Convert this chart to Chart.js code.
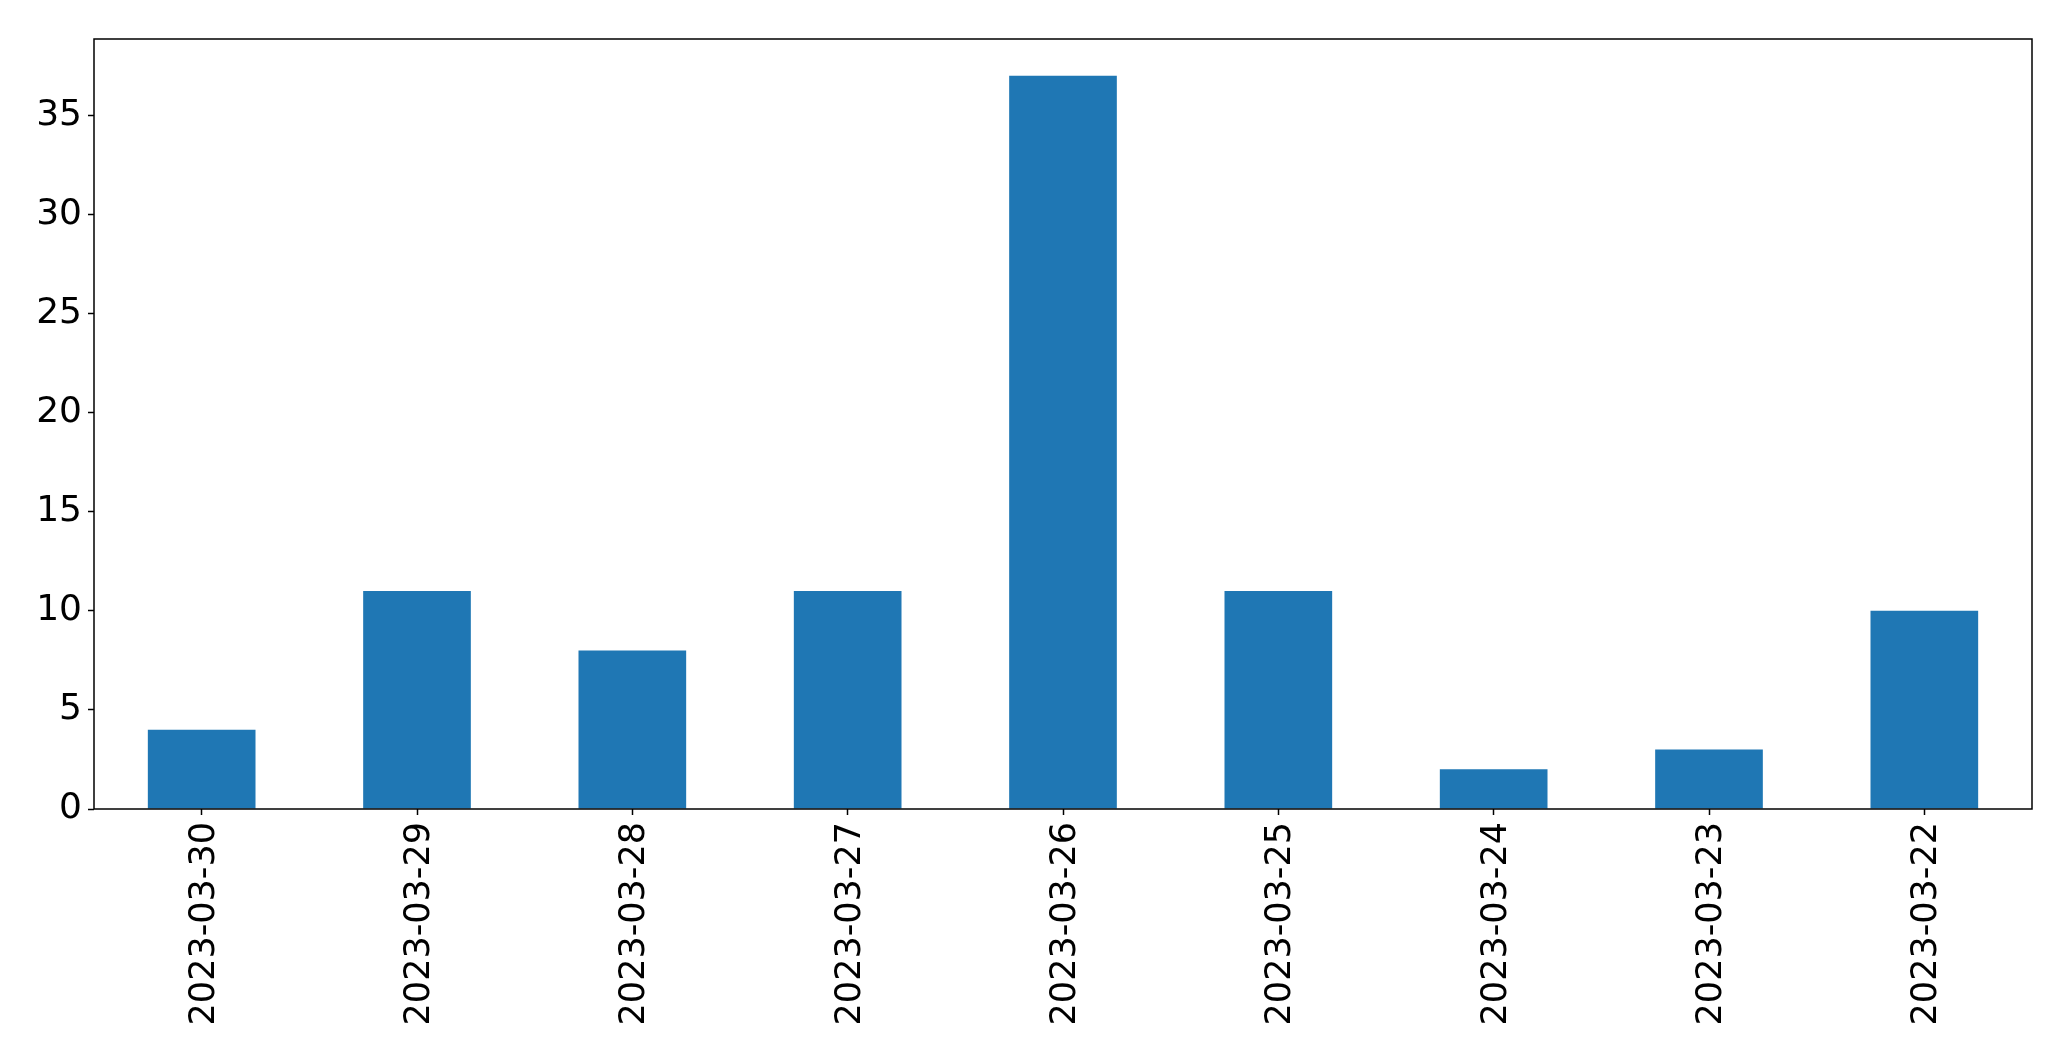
<!DOCTYPE html>
<html>
<head>
<meta charset="utf-8">
<script src="https://cdn.jsdelivr.net/npm/chart.js@4/dist/chart.umd.min.js"></script>
<style>
html,body{margin:0;padding:0;background:#fff;}
#wrap{width:2071px;height:1061px;position:relative;}
</style>
</head>
<body>
<div id="wrap"><canvas id="c" width="2071" height="1061"></canvas></div>
<script>
const categories = ["2023-03-30","2023-03-29","2023-03-28","2023-03-27","2023-03-26","2023-03-25","2023-03-24","2023-03-23","2023-03-22"];
const values = [4, 11, 8, 11, 37, 11, 2, 3, 10];
const yTicks = [0, 5, 10, 15, 20, 25, 30, 35];
const yMax = 38.85;

const frame = {
  id: 'frame',
  afterDatasetsDraw(chart) {
    const a = chart.chartArea, ctx = chart.ctx;
    ctx.save();
    ctx.strokeStyle = '#000';
    ctx.lineWidth = 1.5;
    ctx.strokeRect(a.left, a.top, a.right - a.left, a.bottom - a.top);
    ctx.restore();
  }
};

new Chart(document.getElementById('c'), {
  type: 'bar',
  data: {
    labels: categories,
    datasets: [{ data: values, backgroundColor: '#1f77b4', borderWidth: 0, categoryPercentage: 1.0, barPercentage: 0.5 }]
  },
  options: {
    responsive: false,
    animation: false,
    devicePixelRatio: 1,
    layout: { padding: { top: 39, right: 39, left: 0, bottom: 0 } },
    plugins: { legend: { display: false }, tooltip: { enabled: false } },
    scales: {
      x: {
        grid: { display: true, offset: false, drawOnChartArea: false, tickLength: 6, tickColor: '#000', tickWidth: 1.5 },
        border: { display: false },
        ticks: { color: '#000', font: { family: 'DejaVu Sans', size: 35 }, minRotation: 90, maxRotation: 90, padding: 7, labelOffset: 3, autoSkip: false },
        afterFit(s) { s.height = 1061 - 809; }
      },
      y: {
        min: 0, max: yMax,
        grid: { display: true, drawOnChartArea: false, tickLength: 6, tickColor: '#000', tickWidth: 1.5 },
        border: { display: false },
        ticks: { color: '#000', font: { family: 'DejaVu Sans', size: 36 }, padding: 6 },
        afterBuildTicks(s) { s.ticks = yTicks.map(v => ({ value: v })); },
        afterFit(s) { s.width = 94; }
      }
    }
  },
  plugins: [frame]
});
</script>
</body>
</html>
